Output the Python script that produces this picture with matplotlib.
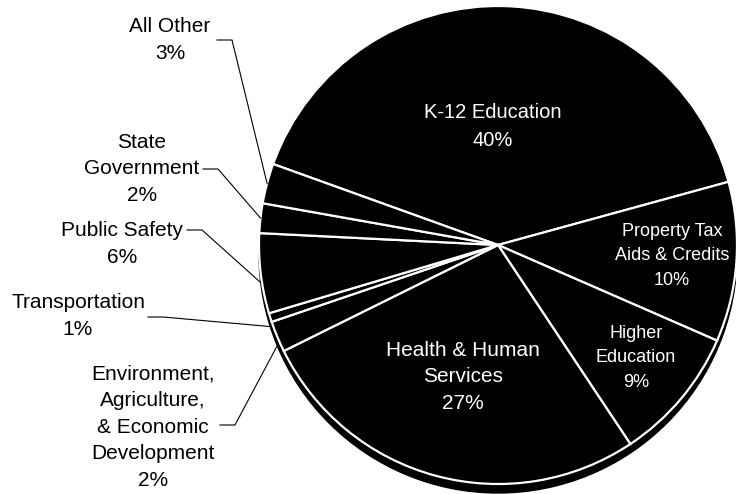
import numpy as np
import matplotlib
matplotlib.use("Agg")
import matplotlib.pyplot as plt

plt.rcParams['font.family'] = ['Liberation Sans', 'DejaVu Sans']

# slices, clockwise from the K-12 wedge
names = ["K-12 Education", "Property Tax\nAids & Credits", "Higher\nEducation",
         "Health & Human\nServices", "Environment,\nAgriculture,\n& Economic\nDevelopment",
         "Transportation", "Public Safety", "State\nGovernment", "All Other"]
shares = [40.2, 10.8, 9.1, 27.0, 2.1, 0.6, 5.4, 2.0, 2.7]
pct_labels = ["40%", "10%", "9%", "27%", "2%", "1%", "6%", "2%", "3%"]
inside = [True, True, True, True, False, False, False, False, False]

W, H = 736, 494
cx, cy, r = 498, 249, 239
depth = 9

fig = plt.figure(figsize=(W / 100, H / 100), dpi=100)
ax = fig.add_axes([0, 0, 1, 1])

# side of the 3d pie
ax.add_patch(plt.Circle((cx, cy - depth), r, color="black", zorder=1))

wedges, _ = ax.pie(shares, startangle=160.2, counterclock=False, center=(cx, cy),
                   radius=r, colors=["black"] * len(shares),
                   wedgeprops=dict(edgecolor="white", linewidth=1.6, zorder=2),
                   frame=True)

# label spots (pixels from top-left), font sizes, line spacing
text_pos = [(493, 127), (672, 256), (636, 358), (463, 377), (153, 427),
            (78, 316), (122, 244), (142, 169), (170, 40)]
font_sz = [14.5, 13, 13, 15, 15, 15, 15, 15, 15]
spacing = [1.6, 1.55, 1.55, 1.5, 1.5, 1.5, 1.5, 1.5, 1.5]
# where the leader leaves the label (pixels), for outside labels
elbow = [None, None, None, None, (220, 425), (148, 317), (187, 230), (203, 169), (217, 40)]

for i, w in enumerate(wedges):
    tx, ty = text_pos[i]
    col = "white" if inside[i] else "black"
    ax.text(tx, H - ty, names[i] + "\n" + pct_labels[i], ha="center", va="center",
            color=col, fontsize=font_sz[i], linespacing=spacing[i], zorder=5)
    if elbow[i] is not None:
        mid = np.deg2rad((w.theta1 + w.theta2) / 2)
        ex, ey = elbow[i]
        px = cx + r * np.cos(mid)
        py = cy + r * np.sin(mid)
        if np.sin(mid) < 0:
            # lower half: point at the outer rim of the side wall
            py -= depth
        ax.plot([ex, ex + 15, px], [H - ey, H - ey, py], color="black", lw=0.8, zorder=4)

ax.set_xlim(0, W)
ax.set_ylim(0, H)
ax.set_aspect("equal")
ax.axis("off")

fig.savefig("out.png", dpi=100, facecolor="white")
